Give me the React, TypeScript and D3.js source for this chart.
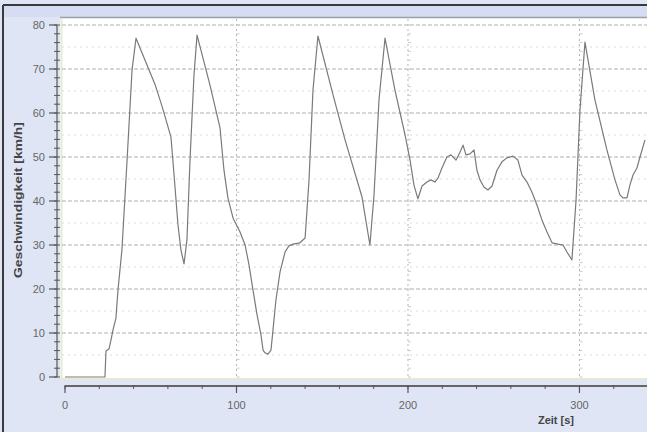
import React from "react";
import * as d3 from "d3";

// Speed trace: time [s] and speed [km/h]
const timeS: number[] = [
  0, 23.3, 23.9, 25.7, 26.8, 28, 29.7, 30.9, 33.2, 36.2, 39.1, 41.4, 52.5, 56.6, 61.8,
  63.6, 65.9, 67.6, 69.4, 71.1, 72.9, 75.2, 77, 84.5, 90.4, 92.7, 95, 98, 102, 105,
  107.3, 109.6, 112, 114.3, 115.5, 116.6, 118.4, 120.1, 121.3, 123, 125.4, 128.3, 130.6,
  133, 137, 140, 142.3, 144.6, 147.5, 156.3, 163.3, 173.2, 177.8, 180.2, 183.1, 186.6,
  192.4, 198.3, 201.2, 203.5, 205.8, 208.2, 211.1, 213.4, 215.7, 217.5, 219.8, 222.7,
  225.1, 228, 230.3, 232.1, 233.8, 236.2, 238.5, 240.2, 242, 244.3, 246.6, 249, 251.9,
  254.8, 257.7, 261.2, 264.1, 266.5, 269.4, 272.3, 275.2, 278.1, 281, 284, 287.5, 290.4,
  292.7, 295.6, 298, 300.3, 303.2, 309, 316, 320.7, 323.6, 325.4, 327.7, 329.4, 331.2,
  333.5, 335.3, 338.2,
];
const speedKmh: number[] = [
  0, 0, 5.9, 6.4, 8.4, 10.7, 13.4, 19.8, 28.9, 49.3, 69.8, 77, 66.5, 61.5, 54.5,
  45.9, 34.5, 28.9, 25.7, 31.1, 49.3, 68.6, 77.7, 66.4, 56.6, 47, 40.7, 36.1, 33, 30,
  25.5, 19.8, 14.1, 9.5, 6.1, 5.5, 5.2, 6.1, 10.7, 17.5, 23.9, 28.4, 29.8,
  30.2, 30.5, 31.6, 44.8, 65.2, 77.5, 64.1, 53.9, 40.9, 30, 41.4, 63, 77,
  65.2, 55, 49.3, 43.6, 40.5, 43.4, 44.3, 44.8, 44.3, 45.2, 47.5, 50,
  50.5, 49.3, 51.1, 52.7, 50.5, 50.7, 51.6, 47, 44.8, 43.2, 42.5, 43.4, 47,
  48.9, 49.8, 50.2, 49.3, 45.9, 44.3, 42, 39.1, 35.7, 33, 30.5, 30.2, 30,
  28.4, 26.6, 40.2, 60.7, 76.1, 63, 51.6, 44.8, 41.4, 40.7, 40.7, 43.6, 45.9,
  47.5, 50, 53.9,
];

const xTicks: number[] = [0, 100, 200, 300];
const yTicks: number[] = [0, 10, 20, 30, 40, 50, 60, 70, 80];

const W = 647;
const H = 432;

export default function App() {
  const x = d3.scaleLinear().domain([0, 338.5]).range([65, 645.5]);
  const y = d3.scaleLinear().domain([0, 80]).range([377, 25]);

  const pts = timeS.map((t, i) => [t, speedKmh[i]] as [number, number]);
  const line = d3
    .line<[number, number]>()
    .x((d) => x(d[0]))
    .y((d) => y(d[1]));

  const yMinor = d3.range(0, 81, 2);
  const xMinor = d3.range(0, 339, 20);
  const yHalf = d3.range(5, 80, 10);
  const font = "'Liberation Sans', Arial, sans-serif";

  return (
    <svg
      width={W}
      height={H}
      style={{ position: "absolute", left: 0, top: 0 }}
      fontFamily={font}
    >
      {/* outer panel */}
      <rect x={0} y={0} width={W} height={H} fill="#dfe5f5" />
      <rect x={3} y={5} width={W} height={12} fill="#d6ddf2" />
      <line x1={3} x2={W} y1={5} y2={5} stroke="#3a3a3a" strokeWidth={2} />
      <line x1={3} x2={3} y1={5} y2={H} stroke="#3a3a3a" strokeWidth={2} />

      {/* plot area */}
      <rect x={60} y={17} width={W - 60} height={363} fill="#ffffff" />
      <line x1={60} x2={W} y1={17.5} y2={17.5} stroke="#9aa0a8" strokeWidth={1.5} />
      <line x1={61.5} x2={61.5} y1={19} y2={380} stroke="#e3ecd2" strokeWidth={2} />
      <line x1={60} x2={W} y1={379} y2={379} stroke="#e3ecd2" strokeWidth={2} />

      {/* minor horizontal grid */}
      {yHalf.map((v) => (
        <line
          key={"h" + v}
          x1={62}
          x2={W}
          y1={y(v)}
          y2={y(v)}
          stroke="#dadada"
          strokeWidth={1}
          strokeDasharray="2,4"
        />
      ))}
      {/* major horizontal grid */}
      {yTicks.slice(1).map((v) => (
        <line
          key={"g" + v}
          x1={62}
          x2={W}
          y1={y(v)}
          y2={y(v)}
          stroke="#b0b0b0"
          strokeWidth={1}
          strokeDasharray="4,2"
        />
      ))}
      {/* vertical grid */}
      {xTicks.slice(1).map((t) => (
        <g key={"v" + t}>
          <line
            x1={x(t)}
            x2={x(t)}
            y1={19}
            y2={379}
            stroke="#b5b5b5"
            strokeWidth={1}
            strokeDasharray="2,3"
          />
          {d3.range(0, 81, 2).map((v) => (
            <line
              key={v}
              x1={x(t)}
              x2={x(t) + 3}
              y1={y(v)}
              y2={y(v)}
              stroke="#cccccc"
              strokeWidth={1}
            />
          ))}
        </g>
      ))}

      {/* speed trace */}
      <path
        d={line(pts) ?? ""}
        fill="none"
        stroke="#7a7a7a"
        strokeWidth={1.2}
        strokeLinejoin="round"
      />

      {/* y axis */}
      <line x1={57} x2={57} y1={y(80)} y2={y(0)} stroke="#555" strokeWidth={1.2} />
      {yMinor.map((v) => (
        <line
          key={"ym" + v}
          x1={54}
          x2={60}
          y1={y(v)}
          y2={y(v)}
          stroke="#555"
          strokeWidth={1}
        />
      ))}
      {yTicks.map((v) => (
        <g key={"yt" + v}>
          <line x1={49} x2={57} y1={y(v)} y2={y(v)} stroke="#555" strokeWidth={1.2} />
          <text
            x={45}
            y={y(v)}
            dy="0.35em"
            textAnchor="end"
            fontSize={11}
            fill="#666"
          >
            {v}
          </text>
        </g>
      ))}

      {/* x axis */}
      <line x1={65} x2={W} y1={386} y2={386} stroke="#666" strokeWidth={2} />
      {xMinor.map((t) => (
        <line
          key={"xm" + t}
          x1={x(t)}
          x2={x(t)}
          y1={385}
          y2={389}
          stroke="#555"
          strokeWidth={1}
        />
      ))}
      {xTicks.map((t) => (
        <g key={"xt" + t}>
          <line x1={x(t)} x2={x(t)} y1={386} y2={393} stroke="#555" strokeWidth={1.2} />
          <text
            x={x(t)}
            y={405}
            dy="0.35em"
            textAnchor="middle"
            fontSize={11}
            fill="#666"
          >
            {t}
          </text>
        </g>
      ))}

      {/* axis titles */}
      <text
        x={556}
        y={420}
        dy="0.35em"
        textAnchor="middle"
        fontSize={11}
        fontWeight="bold"
        fill="#444"
      >
        Zeit [s]
      </text>
      <text
        transform="translate(18,200) rotate(-90)"
        textAnchor="middle"
        dy="0.35em"
        fontSize={10}
        fontWeight="bold"
        fill="#444"
        textLength={156}
        lengthAdjust="spacingAndGlyphs"
      >
        Geschwindigkeit [km/h]
      </text>
    </svg>
  );
}
